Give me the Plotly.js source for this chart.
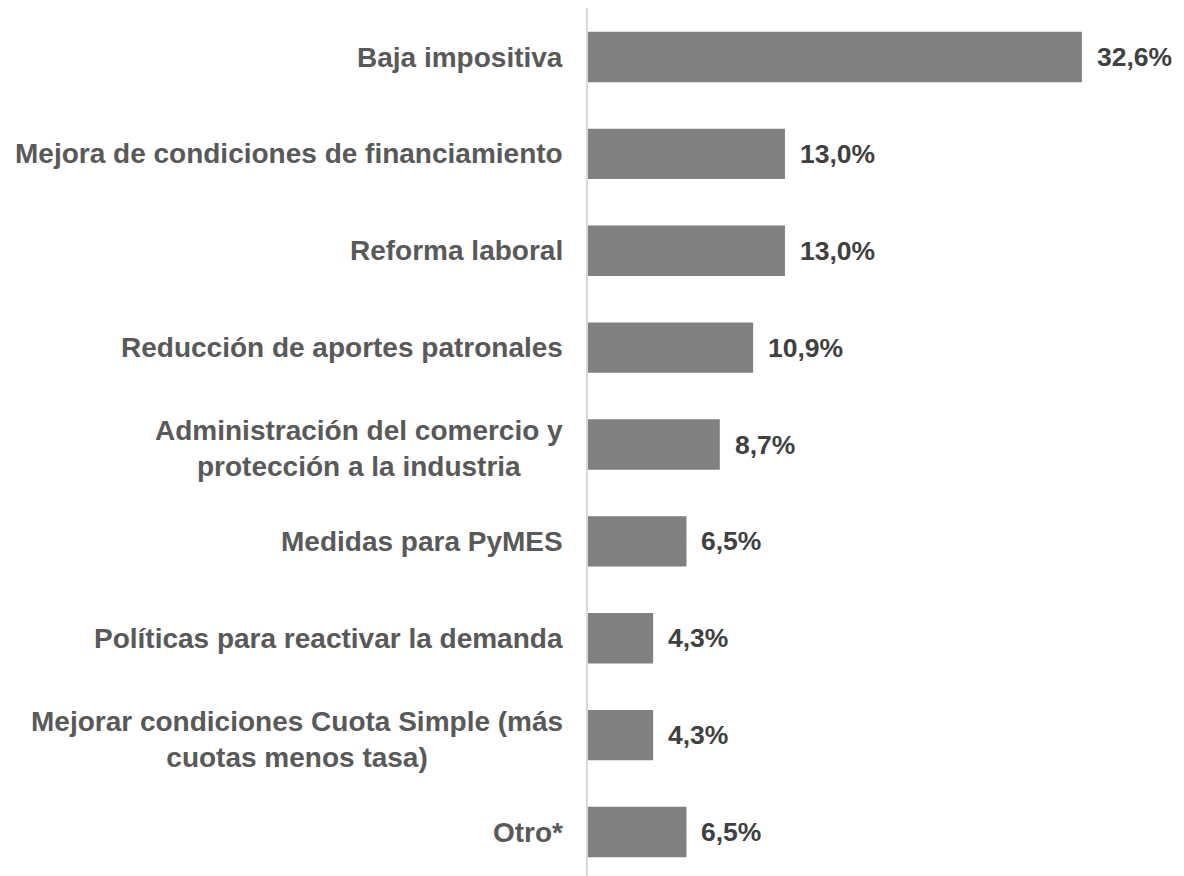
<!DOCTYPE html>
<html>
<head>
<meta charset="utf-8">
<script src="https://cdn.plot.ly/plotly-3.0.1.min.js"></script>
<style>
  html, body { margin: 0; padding: 0; background: #fff; }
  #chart { width: 1184px; height: 876px; }
</style>
</head>
<body>
<div id="chart"></div>
<script>
// DATA
let categories = [
  "Baja impositiva",
  "Mejora de condiciones de financiamiento",
  "Reforma laboral",
  "Reducción de aportes patronales",
  "Administración del comercio y<br>protección a la industria",
  "Medidas para PyMES",
  "Políticas para reactivar la demanda",
  "Mejorar condiciones Cuota Simple (más<br>cuotas menos tasa)",
  "Otro*",
];
let values = [32.6, 13.0, 13.0, 10.9, 8.7, 6.5, 4.3, 4.3, 6.5];

let labelFont = { family: "Liberation Sans, Arial, sans-serif", size: 28, color: "#595959", weight: "bold" };
let valueFont = { family: "Liberation Sans, Arial, sans-serif", size: 26.5, color: "#404040", weight: "bold" };

let idx = categories.map((c, i) => i);

let barData = [{
  type: "bar",
  orientation: "h",
  x: values,
  y: idx,
  width: 0.52,
  marker: { color: "#808080" },
  hoverinfo: "none",
}];

// labels on the left, centered text blocks
let catNotes = categories.map((c, i) => ({
  xref: "paper", yref: "y",
  x: 0, y: i,
  xanchor: "right", yanchor: "middle",
  xshift: -23,
  yshift: c.includes("<br>") ? -4 : 0,
  text: c,
  align: "center",
  showarrow: false,
  font: labelFont,
}));

// value labels to the right of each bar
let valNotes = values.map((v, i) => ({
  xref: "x", yref: "y",
  x: v, y: i,
  xanchor: "left", yanchor: "middle",
  xshift: 13,
  text: v.toFixed(1).replace(".", ",") + "%",
  showarrow: false,
  font: valueFont,
}));

let layout = {
  width: 1184,
  height: 876,
  margin: { l: 588, r: 0, t: 8, b: 0 },
  paper_bgcolor: "#ffffff",
  plot_bgcolor: "#ffffff",
  showlegend: false,
  xaxis: {
    range: [0, 39.34],
    visible: false,
    fixedrange: true,
  },
  yaxis: {
    range: [8.454, -0.506],
    showline: true,
    linecolor: "#d9d9d9",
    linewidth: 2,
    showticklabels: false,
    showgrid: false,
    zeroline: false,
    ticks: "",
    fixedrange: true,
  },
  annotations: catNotes.concat(valNotes),
};

let config = { displayModeBar: false, staticPlot: true };

Plotly.newPlot(document.getElementById("chart"), barData, layout, config);
</script>
</body>
</html>
